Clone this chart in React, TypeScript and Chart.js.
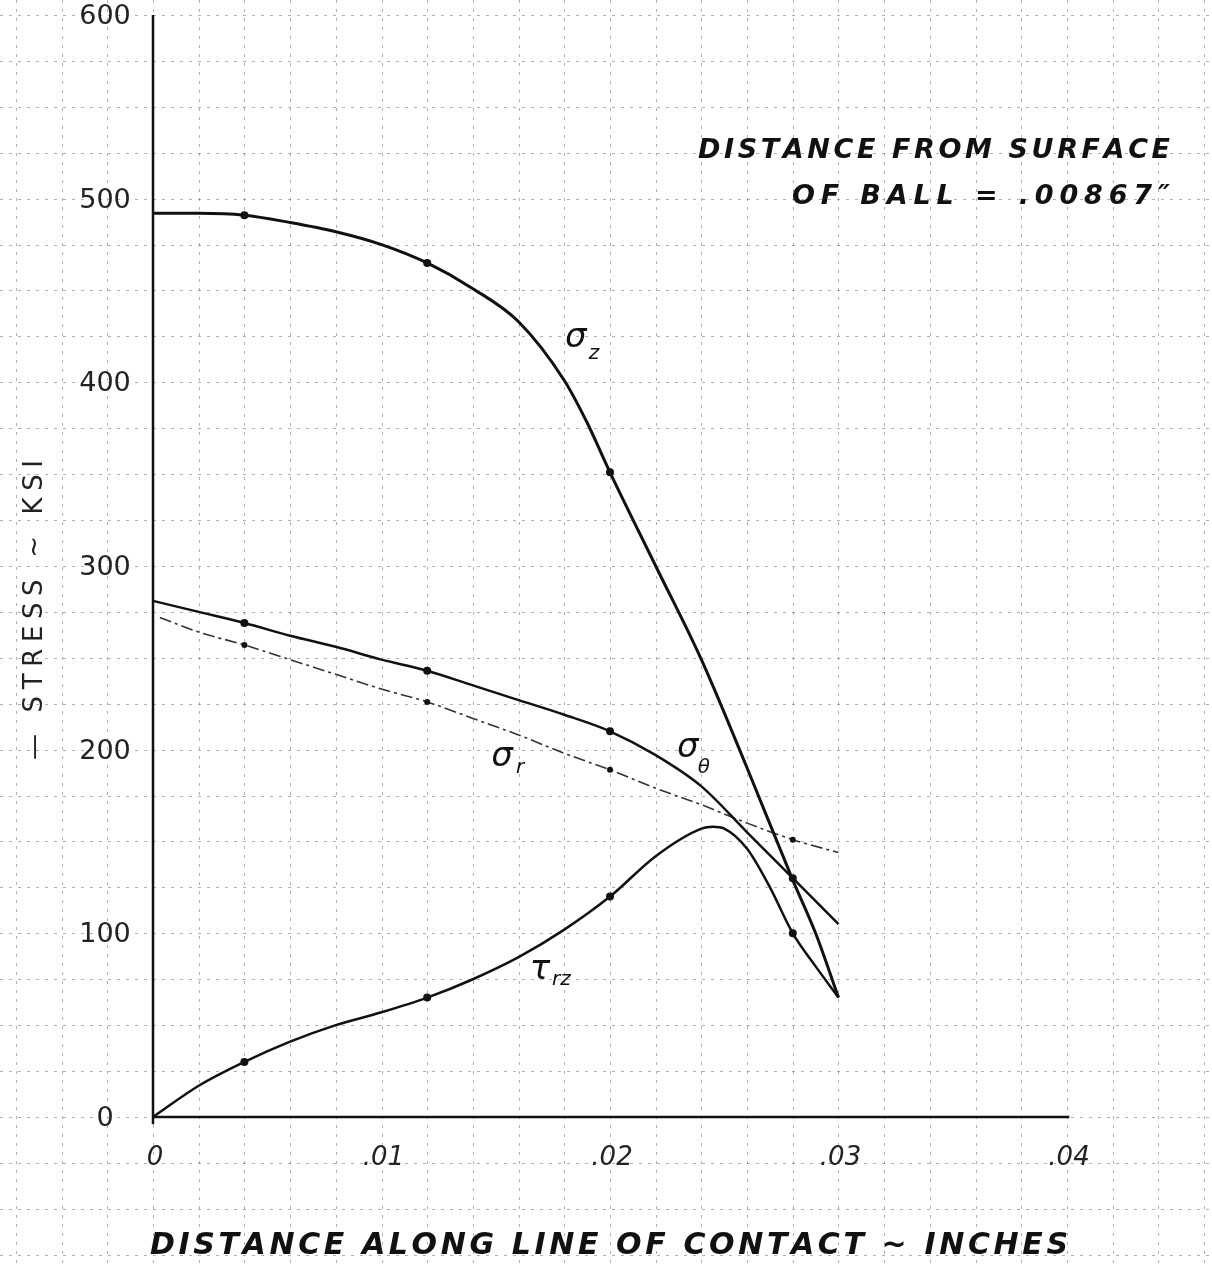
import React, { useEffect, useRef } from "react";
import { Chart, registerables } from "chart.js";

Chart.register(...registerables);

// ---- data ----
const sigmaZX = [0, 0.002, 0.004, 0.006, 0.008, 0.01, 0.012, 0.014, 0.016, 0.018, 0.019, 0.02, 0.022, 0.024, 0.026, 0.028, 0.029, 0.03];
const sigmaZY = [492, 492, 491, 487, 482, 475, 465, 451, 433, 401, 378, 351, 300, 249, 190, 129, 100, 65];

const sigmaThetaX = [0, 0.002, 0.004, 0.006, 0.008, 0.01, 0.012, 0.014, 0.016, 0.018, 0.02, 0.022, 0.024, 0.026, 0.028, 0.03];
const sigmaThetaY = [281, 275, 269, 262, 256, 249, 243, 235, 227, 219, 210, 197, 180, 155, 130, 105];

const sigmaRX = [0.0003, 0.002, 0.004, 0.006, 0.008, 0.01, 0.012, 0.014, 0.016, 0.018, 0.02, 0.022, 0.024, 0.026, 0.028, 0.03];
const sigmaRY = [272, 264, 257, 249, 241, 233, 226, 217, 208, 198, 189, 179, 170, 160, 151, 144];

const tauX = [0, 0.002, 0.004, 0.006, 0.008, 0.01, 0.012, 0.014, 0.016, 0.018, 0.02, 0.022, 0.024, 0.0245, 0.025, 0.026, 0.027, 0.028, 0.029, 0.03];
const tauY = [0, 17, 30, 41, 50, 57, 65, 75, 87, 102, 120, 142, 157, 158, 157, 146, 125, 100, 82, 65];

const sigmaZMarks = [0.004, 0.012, 0.02];
const sigmaThetaMarks = [0.004, 0.012, 0.02, 0.028];
const sigmaRMarks = [0.004, 0.012, 0.02, 0.028];
const tauMarks = [0.004, 0.012, 0.02, 0.028];

const xTickValues = [0, 0.01, 0.02, 0.03, 0.04];
const xTickLabels = ["0", ".01", ".02", ".03", ".04"];
const yTickValues = [0, 100, 200, 300, 400, 500, 600];
const yTickLabels = ["0", "100", "200", "300", "400", "500", "600"];

const xTitle = "DISTANCE ALONG LINE OF CONTACT ~ INCHES";
const yTitle = "— STRESS ~ KSI";
const noteLine1 = "DISTANCE FROM SURFACE";
const noteLine2 = "OF BALL = .00867\u2033";

// ---- layout ----
const W = 1212;
const H = 1268;
const X0PX = 153;
const XPPU = 22850; // px per inch
const Y0PX = 1117;
const YPPU = 1.8367; // px per ksi
const X_MIN = -X0PX / XPPU;
const X_MAX = (W - X0PX) / XPPU;
const Y_MIN = -(H - Y0PX) / YPPU;
const Y_MAX = Y0PX / YPPU;

const INK = "#111";

function pts(xs: number[], ys: number[]) {
  return xs.map((x, i) => ({ x, y: ys[i] }));
}

function markRadius(marks: number[], r: number) {
  return (ctx: any) => {
    const raw = ctx.raw;
    if (!raw) return 0;
    return marks.some((m) => Math.abs(m - raw.x) < 1e-9) ? r : 0;
  };
}

function drawSpread(ctx: CanvasRenderingContext2D, text: string, left: number, right: number, y: number) {
  const chars = Array.from(text);
  const widths = chars.map((c) => ctx.measureText(c).width);
  const total = widths.reduce((a, b) => a + b, 0);
  const gap = chars.length > 1 ? (right - left - total) / (chars.length - 1) : 0;
  let x = left;
  ctx.textAlign = "left";
  chars.forEach((c, i) => {
    ctx.fillText(c, x, y);
    x += widths[i] + gap;
  });
}

const paperPlugin = {
  id: "paper",
  beforeDatasetsDraw(chart: any) {
    const ctx: CanvasRenderingContext2D = chart.ctx;
    const xs = chart.scales.x;
    const ys = chart.scales.y;
    ctx.save();
    // graph paper
    ctx.strokeStyle = "rgba(70,70,70,0.42)";
    ctx.lineWidth = 1;
    ctx.setLineDash([3, 6]);
    for (let i = -3; i <= 23; i++) {
      const px = Math.round(xs.getPixelForValue(i * 0.002)) + 0.5;
      ctx.beginPath();
      ctx.moveTo(px, 0);
      ctx.lineTo(px, H);
      ctx.stroke();
    }
    for (let j = -3; j <= 24; j++) {
      const py = Math.round(ys.getPixelForValue(j * 25)) + 0.5;
      ctx.beginPath();
      ctx.moveTo(0, py);
      ctx.lineTo(W, py);
      ctx.stroke();
    }
    ctx.setLineDash([]);

    // axes
    ctx.strokeStyle = INK;
    ctx.lineWidth = 2.5;
    ctx.beginPath();
    ctx.moveTo(xs.getPixelForValue(0), ys.getPixelForValue(600));
    ctx.lineTo(xs.getPixelForValue(0), ys.getPixelForValue(-4));
    ctx.stroke();
    ctx.beginPath();
    ctx.moveTo(xs.getPixelForValue(0), ys.getPixelForValue(0));
    ctx.lineTo(xs.getPixelForValue(0.0401), ys.getPixelForValue(0));
    ctx.stroke();

    // tick labels
    ctx.fillStyle = "#222";
    ctx.textBaseline = "middle";
    ctx.textAlign = "center";
    ctx.font = "italic 26px 'DejaVu Sans'";
    xTickValues.forEach((v, i) => {
      ctx.fillText(xTickLabels[i], xs.getPixelForValue(v) + 2, ys.getPixelForValue(0) + 41);
    });
    ctx.font = "27px 'DejaVu Sans'";
    yTickValues.forEach((v, i) => {
      ctx.fillText(yTickLabels[i], xs.getPixelForValue(0) - 48, ys.getPixelForValue(v) + 2);
    });

    // axis titles
    ctx.fillStyle = INK;
    ctx.font = "italic bold 30px 'DejaVu Sans'";
    ctx.textBaseline = "alphabetic";
    drawSpread(ctx, xTitle, 150, 1068, 1254);

    ctx.save();
    ctx.translate(42, 760);
    ctx.rotate(-Math.PI / 2);
    ctx.font = "26px 'DejaVu Sans'";
    ctx.fillStyle = "#222";
    drawSpread(ctx, yTitle, 0, 300, 0);
    ctx.restore();

    // note
    ctx.font = "italic bold 27px 'DejaVu Sans'";
    ctx.fillStyle = INK;
    drawSpread(ctx, noteLine1, 698, 1170, 158);
    drawSpread(ctx, noteLine2, 792, 1170, 204);

    // curve labels
    const labels = [
      { main: "σ", sub: "z", x: 0.0185, y: 424, dx: 13, dy: 16 },
      { main: "σ", sub: "θ", x: 0.0234, y: 201, dx: 10, dy: 20 },
      { main: "σ", sub: "r", x: 0.01527, y: 196, dx: 14, dy: 11 },
      { main: "τ", sub: "rz", x: 0.01694, y: 80, dx: 12, dy: 10 },
    ];
    labels.forEach((l) => {
      const px = xs.getPixelForValue(l.x);
      const py = ys.getPixelForValue(l.y);
      ctx.font = "italic 34px 'DejaVu Sans'";
      ctx.textAlign = "center";
      ctx.textBaseline = "middle";
      ctx.fillText(l.main, px, py);
      ctx.font = "italic 20px 'DejaVu Sans'";
      ctx.textAlign = "left";
      ctx.fillText(l.sub, px + l.dx, py + l.dy);
    });
    ctx.restore();
  },
};

export default function App() {
  const ref = useRef<HTMLCanvasElement | null>(null);
  useEffect(() => {
    if (!ref.current) return;
    const chart = new Chart(ref.current, {
      type: "line",
      data: {
        datasets: [
          {
            label: "σz",
            data: pts(sigmaZX, sigmaZY),
            borderColor: INK,
            backgroundColor: INK,
            borderWidth: 3,
            pointRadius: markRadius(sigmaZMarks, 4),
            pointBorderWidth: 0,
          },
          {
            label: "σθ",
            data: pts(sigmaThetaX, sigmaThetaY),
            borderColor: INK,
            backgroundColor: INK,
            borderWidth: 2.5,
            pointRadius: markRadius(sigmaThetaMarks, 4),
            pointBorderWidth: 0,
          },
          {
            label: "σr",
            data: pts(sigmaRX, sigmaRY),
            borderColor: "#333",
            backgroundColor: INK,
            borderWidth: 1.6,
            borderDash: [12, 4, 3, 4],
            pointRadius: markRadius(sigmaRMarks, 3),
            pointBorderWidth: 0,
          },
          {
            label: "τrz",
            data: pts(tauX, tauY),
            borderColor: INK,
            backgroundColor: INK,
            borderWidth: 2.5,
            pointRadius: markRadius(tauMarks, 4),
            pointBorderWidth: 0,
          },
        ],
      },
      options: {
        responsive: false,
        maintainAspectRatio: false,
        animation: false,
        layout: { padding: 0 },
        parsing: false as any,
        elements: { line: { cubicInterpolationMode: "monotone", fill: false } },
        plugins: { legend: { display: false }, tooltip: { enabled: false } },
        scales: {
          x: { type: "linear", display: false, min: X_MIN, max: X_MAX },
          y: { type: "linear", display: false, min: Y_MIN, max: Y_MAX },
        },
      },
      plugins: [paperPlugin],
    });
    return () => chart.destroy();
  }, []);
  return (
    <div style={{ position: "absolute", left: 0, top: 0, width: W, height: H, background: "#fff" }}>
      <canvas ref={ref} width={W} height={H} style={{ display: "block", width: W, height: H }} />
    </div>
  );
}
